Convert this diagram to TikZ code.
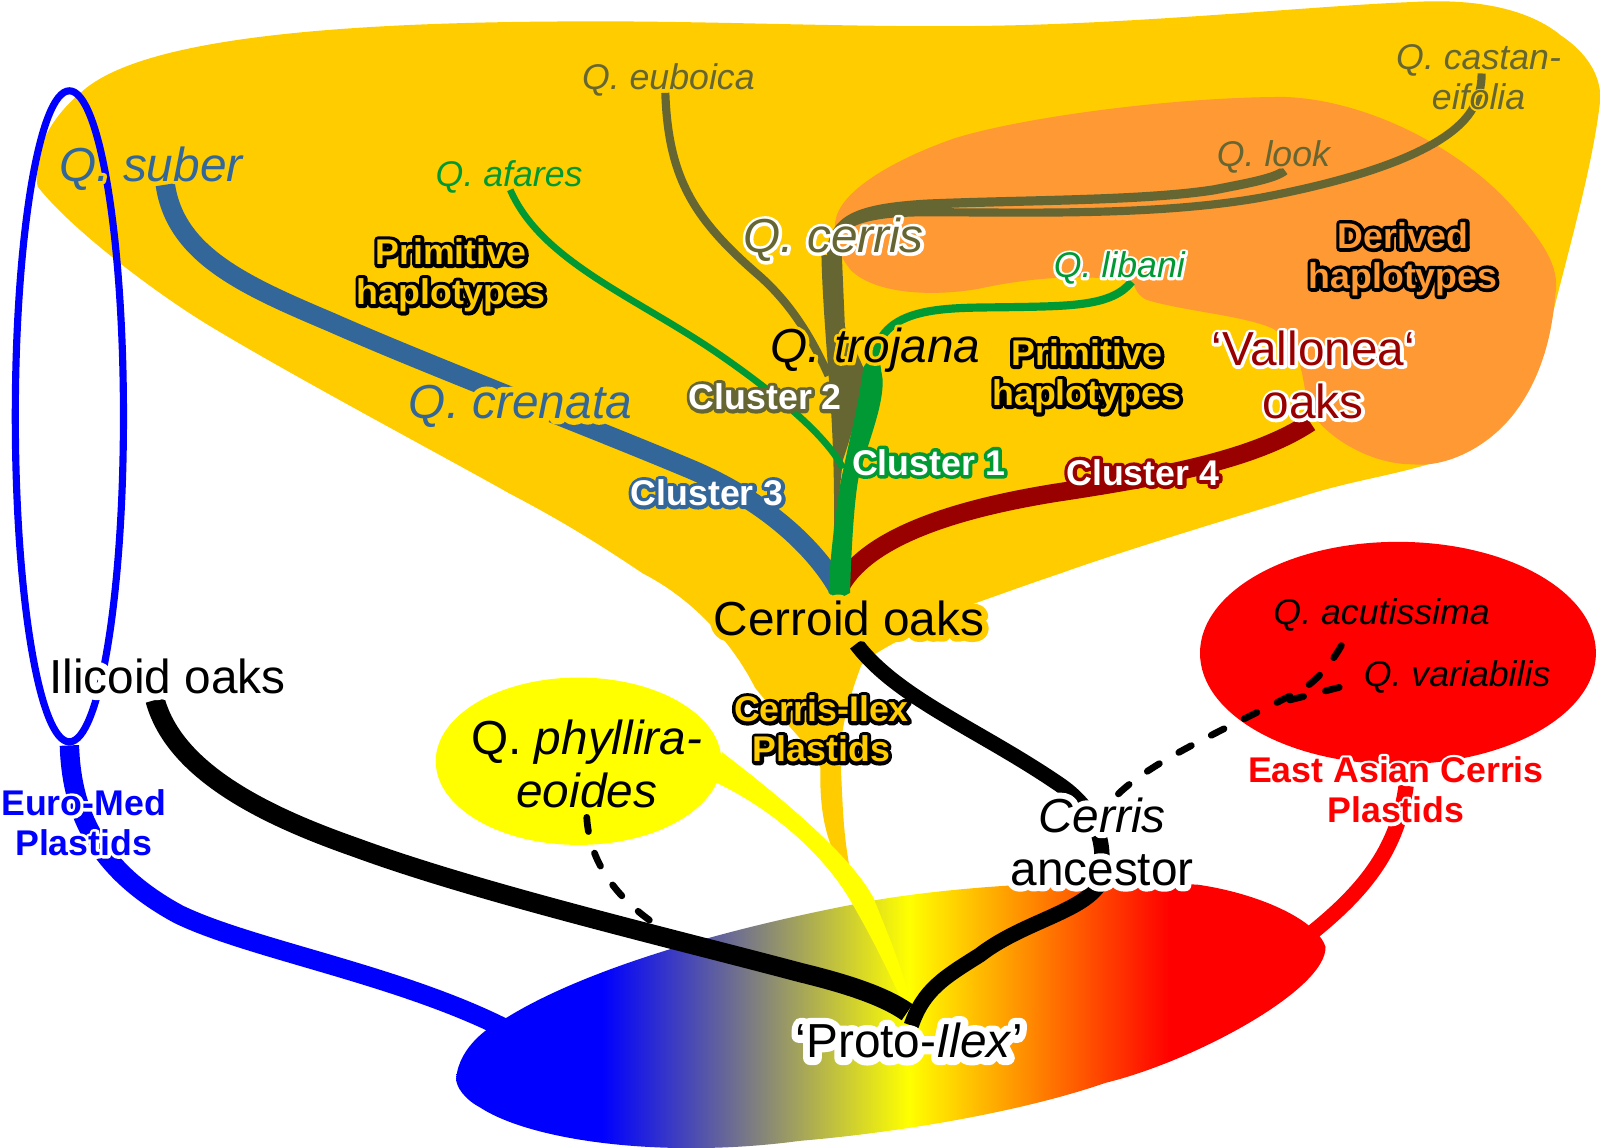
\documentclass[tikz,border=0pt]{standalone}
\usepackage{fontspec}
\setmainfont{Liberation Sans}
\usetikzlibrary{shapes.geometric}
\definecolor{goldblob}{RGB}{255,204,0}
\definecolor{orangeblob}{RGB}{255,153,51}
\definecolor{oakblue}{RGB}{51,102,153}
\definecolor{oakbrown}{RGB}{102,102,51}
\definecolor{oakgreen}{RGB}{0,153,51}
\definecolor{oakred}{RGB}{153,0,0}
\definecolor{plainyellow}{RGB}{255,255,0}
\pgfdeclarehorizontalshading{protoshade}{100bp}{rgb(0bp)=(0,0,1); rgb(33.4bp)=(0,0,1); rgb(51bp)=(1,1,0); rgb(66bp)=(1,0,0); rgb(100bp)=(1,0,0)}
\newcommand{\halo}[3]{\leavevmode\rlap{\textcolor{#1}{\special{pdf:code 1 Tr #2 w 1 j 1 J}#3\special{pdf:code 0 Tr}}}#3}
\newcommand{\twolines}[2]{\begin{tabular}{@{}c@{}}#1\\#2\end{tabular}}
\tikzset{
	smalltext/.style={font=\fontsize{17.5}{19.6}\selectfont, inner sep=0pt},
	smallbold/.style={font=\fontsize{17.5}{19.6}\selectfont\bfseries, inner sep=0pt},
	largetext/.style={font=\fontsize{23.4}{26}\selectfont, inner sep=0pt},
	dashline/.style={black, line width=3.3pt, line cap=round, dash pattern=on 7pt off 11pt},
}
\begin{document}
\begin{tikzpicture}[x=0.5pt,y=-0.5pt]
		\useasboundingbox (0,0) rectangle (1568,1125);
		\fill[goldblob] (80,90) .. controls (130,45) and (280,22) .. (560,21) .. controls (700,20) and (850,28) .. (984,25) .. controls (1130,22) and (1300,5) .. (1384,2) .. controls (1450,-2) and (1500,10) .. (1530,35) .. controls (1560,55) and (1570,80) .. (1568,100) .. controls (1560,170) and (1530,270) .. (1515,335) .. controls (1505,380) and (1470,430) .. (1409,452) .. controls (1370,465) and (1330,470) .. (1284,484) .. controls (1200,510) and (1100,540) .. (1039,562) .. controls (1000,575) and (960,590) .. (930,600) .. controls (900,620) and (860,635) .. (844,652) .. controls (830,690) and (822,720) .. (824,752) .. controls (826,790) and (826,820) .. (835,862) -- (822,845) .. controls (808,820) and (803,790) .. (804,752) .. controls (790,725) and (760,700) .. (740,674) .. controls (715,625) and (675,585) .. (630,562) .. controls (590,535) and (550,510) .. (500,484) .. controls (440,450) and (280,365) .. (200,316) .. controls (150,285) and (70,225) .. (37,183) .. controls (30,150) and (50,115) .. (80,90) -- cycle;
		\fill[orangeblob] (819,215) .. controls (825,185) and (880,155) .. (934,136) .. controls (1000,115) and (1150,95) .. (1259,95) .. controls (1340,98) and (1430,145) .. (1480,200) .. controls (1510,235) and (1530,260) .. (1524,290) .. controls (1520,340) and (1505,380) .. (1480,410) .. controls (1450,445) and (1410,458) .. (1384,455) .. controls (1340,455) and (1295,425) .. (1283,400) .. controls (1275,375) and (1280,345) .. (1249,323) .. controls (1225,310) and (1160,305) .. (1124,294) .. controls (1115,290) and (1112,282) .. (1110,276) .. controls (1060,268) and (1010,272) .. (959,283) .. controls (920,290) and (860,290) .. (834,265) .. controls (822,250) and (815,235) .. (819,215) -- cycle;
		\shade[shading=protoshade] (447,1057) .. controls (450,1025) and (480,1005) .. (497,997) .. controls (560,958) and (680,915) .. (859,882) .. controls (930,870) and (1050,860) .. (1174,867) .. controls (1230,875) and (1290,900) .. (1299,928) .. controls (1300,970) and (1170,1040) .. (1084,1061) .. controls (1000,1090) and (880,1110) .. (784,1118) .. controls (650,1136) and (520,1118) .. (470,1085) .. controls (455,1077) and (447,1065) .. (447,1057) -- cycle;
		\node[ellipse, draw=blue, line width=3.5pt, minimum width=53pt, minimum height=319pt, inner sep=0pt] (euromed) at (68,408) {};
		\node[ellipse, fill=red, minimum width=194pt, minimum height=109pt, inner sep=0pt] (eastasian) at (1370,640) {};
		\node[ellipse, fill=plainyellow, minimum width=140pt, minimum height=82pt, inner sep=0pt] (phyllira) at (567,746) {};
		\coordinate (root) at (822,578);
		\coordinate (ilex) at (889,992);
		\draw[blue, line width=9.5pt] (euromed.south) .. controls (70,790) and (90,850) .. (175,896) .. controls (245,930) and (390,955) .. (495,1008);
		\draw[red, line width=7.5pt] (1378,770) .. controls (1370,830) and (1340,870) .. (1287,913);
		\fill[plainyellow] (phyllira.east) ++(0,-9) .. controls (770,785) and (835,840) .. (856,880) .. controls (870,915) and (885,950) .. (893,985) -- (ilex) .. controls (870,950) and (855,920) .. (836,887) .. controls (810,840) and (760,795) .. (702,767) -- cycle;
		\draw[oakbrown, line width=4pt] (652,91) .. controls (655,175) and (680,215) .. (745,271) .. controls (775,298) and (795,330) .. (812,368);
		\draw[oakbrown, line width=4.5pt] (815,250) .. controls (815,215) and (840,204) .. (909,200) .. controls (1000,196) and (1120,197) .. (1190,186) .. controls (1220,180) and (1250,175) .. (1259,167);
		\draw[oakbrown, line width=4pt] (815,250) .. controls (815,220) and (840,208) .. (909,208) .. controls (1000,208) and (1130,212) .. (1234,194) .. controls (1320,178) and (1420,150) .. (1444,105) .. controls (1449,95) and (1452,85) .. (1452,72);
		\fill[oakbrown] (805,250) .. controls (806,300) and (812,360) .. (815,412) .. controls (817,450) and (818,490) .. (817,535) -- (826,451) .. controls (835,425) and (846,385) .. (846,360) -- (828,320) -- (825,250) -- cycle;
		\draw[oakblue, line width=9.5pt] (162,181) .. controls (172,250) and (240,280) .. (325,316) .. controls (420,358) and (570,415) .. (675,459) .. controls (740,486) and (795,530) .. (root);
		\draw[oakred, line width=9pt] (1284,414) .. controls (1230,450) and (1140,467) .. (1034,483) .. controls (960,495) and (850,520) .. (root);
		\draw[oakgreen, line width=3.3pt] (500,186) .. controls (530,255) and (620,290) .. (700,344) .. controls (750,378) and (810,425) .. (826,459);
		\draw[oakgreen, line width=4pt] (1109,276) .. controls (1090,300) and (1050,300) .. (990,301) .. controls (930,302) and (865,298) .. (857,350);
		\fill[oakgreen] (846,360) .. controls (842,395) and (830,440) .. (823,477) .. controls (818,510) and (813,550) .. (812,581) -- (822,587) -- (833,581) .. controls (834,550) and (836,500) .. (841,470) .. controls (848,440) and (866,400) .. (865,372) -- (860,340) -- cycle;
		\draw[dashline] (575,801) .. controls (578,850) and (610,885) .. (647,909);
		\draw[dashline] (1096,778) .. controls (1130,745) and (1200,715) .. (1274,677) .. controls (1295,665) and (1312,640) .. (1321,620);
		\draw[dashline] (1264,686) -- (1319,672);
		\draw[black, line width=9.5pt] (152,686) .. controls (172,760) and (270,803) .. (350,831) .. controls (470,875) and (660,920) .. (784,953) .. controls (825,963) and (865,975) .. (ilex);
		\draw[black, line width=7.5pt] (839,631) .. controls (880,685) and (960,715) .. (1040,770) .. controls (1075,795) and (1088,830) .. (1075,870) .. controls (1055,895) and (1000,905) .. (960,936) .. controls (925,958) and (905,970) .. (893,1005);
		\node[smalltext] (euboica) at (655,78) {\color{oakbrown}\itshape Q. euboica};
		\node[smalltext] (afares) at (499,173) {\color{oakgreen}\itshape Q. afares};
		\node[smalltext] (castan) at (1449,80) {\color{oakbrown}\itshape\halo{goldblob}{1.5}{\twolines{Q. castan-}{eifolia}}};
		\node[smalltext] (look) at (1248,154) {\color{oakbrown}\itshape\halo{orangeblob}{1.5}{Q. look}};
		\node[smalltext] (libani) at (1097,263) {\color{oakgreen}\itshape\halo{white}{2.5}{Q. libani}};
		\node[smalltext] (acutissima) at (1354,603) {\itshape\halo{red}{1.5}{Q. acutissima}};
		\node[smalltext] (variabilis) at (1428,663) {\itshape\halo{red}{1.5}{Q. variabilis}};
		\node[largetext] (suber) at (148,165) {\color{oakblue}\itshape\halo{goldblob}{3}{Q. suber}};
		\node[largetext] (cerris) at (817,235) {\color{oakbrown}\itshape\halo{white}{3}{Q. cerris}};
		\node[largetext] (trojana) at (858,343) {\itshape\halo{goldblob}{3}{Q. trojana}};
		\node[largetext] (crenata) at (510,398) {\color{oakblue}\itshape\halo{goldblob}{6}{Q. crenata}};
		\node[largetext] (vallonea) at (1287,374) {\color{oakred}\halo{white}{3}{\twolines{‘Vallonea‘}{oaks}}};
		\node[largetext] (cerroid) at (832,606) {\halo{goldblob}{6}{Cerroid oaks}};
		\node[largetext] (ilicoid) at (164,663) {\halo{white}{6}{Ilicoid oaks}};
		\node[largetext] (phyllira label) at (575,755) {\twolines{Q. \textit{phyllira-}}{\textit{eoides}}};
		\node[largetext] (ancestor) at (1080,831) {\halo{white}{6}{\twolines{\textit{Cerris}}{ancestor}}};
		\node[largetext] (proto) at (891,1020) {\halo{white}{7}{‘Proto-\textit{Ilex}’}};
		\node[smallbold] (primitiveA) at (442,271) {\color{goldblob}\halo{black}{3.5}{\twolines{Primitive}{haplotypes}}};
		\node[smallbold] (primitiveB) at (1065,370) {\color{goldblob}\halo{black}{3.5}{\twolines{Primitive}{haplotypes}}};
		\node[smallbold] (derived) at (1375,255) {\color{orangeblob}\halo{black}{3.5}{\twolines{Derived}{haplotypes}}};
		\node[smallbold] (ilexplastids) at (805,719) {\color{goldblob}\halo{black}{3.5}{\twolines{Cerris-Ilex}{Plastids}}};
		\node[smallbold] (clusterA) at (910,453) {\color{white}\halo{oakgreen}{3.5}{Cluster 1}};
		\node[smallbold] (clusterB) at (750,389) {\color{white}\halo{oakbrown}{3.5}{Cluster 2}};
		\node[smallbold] (clusterC) at (693,483) {\color{white}\halo{oakblue}{3.5}{Cluster 3}};
		\node[smallbold] (clusterD) at (1120,463) {\color{white}\halo{oakred}{3.5}{Cluster 4}};
		\node[smallbold] (euromedlabel) at (82,811) {\color{blue}\halo{white}{3}{\twolines{Euro-Med}{Plastids}}};
		\node[smallbold] (eastasianlabel) at (1368,779) {\color{red}\halo{white}{3}{\twolines{East Asian Cerris}{Plastids}}};
\end{tikzpicture}
\end{document}
